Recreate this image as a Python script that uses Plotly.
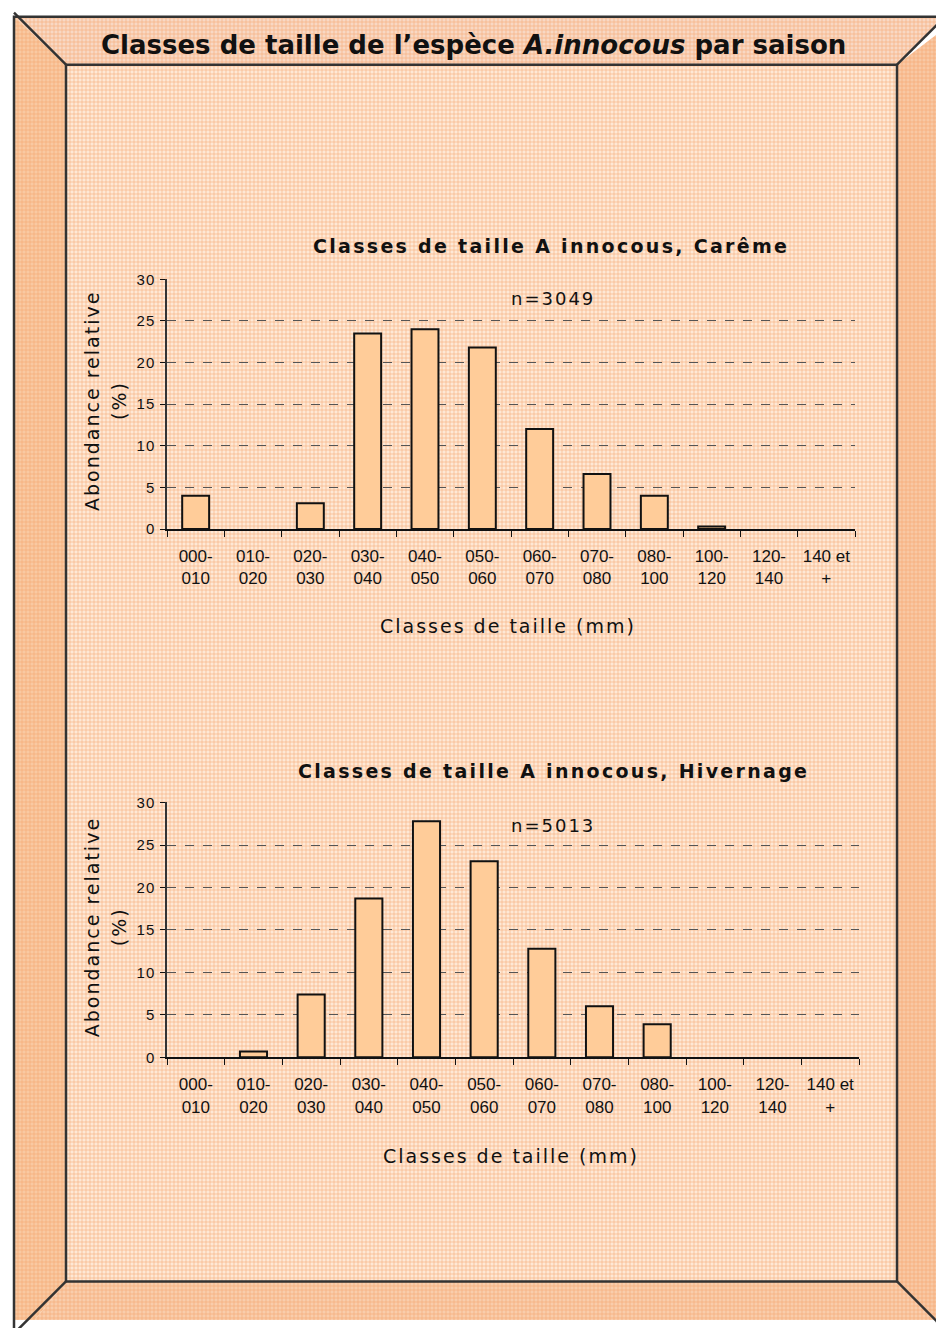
import plotly.graph_objects as go

# size classes (mm) and relative abundance (%) per season
classes = ["000-<br>010", "010-<br>020", "020-<br>030", "030-<br>040", "040-<br>050", "050-<br>060",
           "060-<br>070", "070-<br>080", "080-<br>100", "100-<br>120", "120-<br>140", "140 et<br>+"]
careme = [4.0, 0, 3.1, 23.5, 24.0, 21.8, 12.0, 6.6, 4.0, 0.3, 0, 0]
hivernage = [0, 0.7, 7.4, 18.7, 27.8, 23.1, 12.8, 6.0, 3.9, 0, 0, 0]
n_careme = 3049
n_hivernage = 5013
y_ticks = [0, 5, 10, 15, 20, 25, 30]

# figure size and the page offset / vertical squeeze seen in the screenshot
W, H = 928, 1320
OFF_X, OFF_Y, SQ = 8, 16.5, 0.9873
BAR = "#FFCC99"
INK = "#111111"


def fx(x):
    return x - OFF_X


def fy(y):
    return y / SQ - OFF_Y


def px(x):
    return fx(x) / W


def py(y):
    return 1 - fy(y) / H


def spaced(text, sp):
    return f'<span style="letter-spacing:{sp}px">{text}</span>'


fig = go.Figure()

# textured frame background, drawn on a full-page hidden subplot (x / y)
ox0, oy0, ox1, oy1 = 14, 17, 960, 1345
ix0, iy0, ix1, iy1 = 66, 65, 897, 1281
bands = [
    ([(ox0, oy0), (ox1, oy0), (ix1 + 63, iy0 - 63), (ix1, iy0), (ix0, iy0)], "#F8D8C4"),
    ([(ox0, oy0), (ix0, iy0), (ix0, iy1), (ox0, oy1)], "#F9C9A2"),
    ([(ox1, oy0), (ox1, oy1), (ix1, iy1), (ix1, iy0)], "#F8C8A4"),
    ([(ox0, oy1), (ix0, iy1), (ix1, iy1), (ox1, oy1)], "#F9CDAC"),
    ([(ix0, iy0), (ix1, iy0), (ix1, iy1), (ix0, iy1)], "#FEE8D6"),
]
for pts, col in bands:
    fig.add_scatter(x=[fx(p[0]) for p in pts + pts[:1]], y=[fy(p[1]) for p in pts + pts[:1]],
                    xaxis="x", yaxis="y", mode="none", fill="toself", fillcolor=col,
                    fillpattern=dict(shape="+", size=4, solidity=0.3, fgcolor="#F59E62",
                                     bgcolor=col, fgopacity=0.75),
                    hoverinfo="skip", showlegend=False)

fig.add_bar(x=classes, y=[v if v > 0 else None for v in careme], xaxis="x2", yaxis="y2",
            marker_color=BAR, marker_line_color=INK, marker_line_width=2, showlegend=False)
fig.add_bar(x=classes, y=[v if v > 0 else None for v in hivernage], xaxis="x3", yaxis="y3",
            marker_color=BAR, marker_line_color=INK, marker_line_width=2, showlegend=False)

xax = dict(type="category", showline=True, linecolor=INK, linewidth=1.5,
           ticks="outside", tickson="boundaries", ticklen=6, tickcolor=INK,
           showgrid=False, tickfont=dict(family="Liberation Sans", size=17, color=INK),
           ticklabelstandoff=11, fixedrange=True)
yax = dict(range=[0, 30.05], tickvals=y_ticks, ticktext=[spaced(v, 1) for v in y_ticks],
           showline=True, linecolor="#333333", linewidth=1.5,
           ticks="outside", ticklen=5, tickcolor=INK, zeroline=False,
           showgrid=True, gridcolor="#555555", griddash="dash", gridwidth=1,
           tickfont=dict(family="Liberation Sans", size=15, color=INK),
           ticklabelstandoff=2, fixedrange=True)
hidden = dict(visible=False, showgrid=False, zeroline=False, fixedrange=True)

fig.update_layout(
    width=W, height=H, margin=dict(l=0, r=0, t=0, b=0),
    paper_bgcolor="white", plot_bgcolor="rgba(0,0,0,0)",
    bargap=0.53,
    xaxis=dict(hidden, domain=[0, 1], range=[0, W], anchor="y"),
    yaxis=dict(hidden, domain=[0, 1], range=[H, 0], anchor="x"),
    xaxis2=dict(xax, domain=[px(167), px(855)], anchor="y2"),
    yaxis2=dict(yax, domain=[py(529), py(279)], anchor="x2"),
    xaxis3=dict(xax, domain=[px(167), px(859)], anchor="y3"),
    yaxis3=dict(yax, domain=[py(1057), py(802)], anchor="x3"),
)

# frame outlines
line = dict(color="#333333", width=2.5)
fig.add_shape(type="rect", xref="paper", yref="paper", x0=px(ox0), y0=py(oy0),
              x1=px(ox1), y1=py(oy1), line=line)
fig.add_shape(type="rect", xref="paper", yref="paper", x0=px(ix0), y0=py(iy0),
              x1=px(ix1), y1=py(iy1), line=line)
for (a, b), (c, d) in [((ix0 - 52, iy0 - 52), (ix0, iy0)), ((ix1 + 63, iy0 - 63), (ix1, iy0)),
                       ((ix0 - 63, iy1 + 63), (ix0, iy1)), ((ix1 + 63, iy1 + 63), (ix1, iy1))]:
    fig.add_shape(type="line", xref="paper", yref="paper", x0=px(a), y0=py(b),
                  x1=px(c), y1=py(d), line=line)


def label(x, y, text, size, bold=False, angle=0, sp=0, family="DejaVu Sans"):
    if sp:
        text = spaced(text, sp)
    fig.add_annotation(x=px(x), y=py(y), xref="paper", yref="paper", text=text,
                       showarrow=False, textangle=angle, xanchor="center", yanchor="middle",
                       font=dict(family=family, size=size, color=INK,
                                 weight="bold" if bold else "normal"))


label(473, 45, "Classes de taille de l’espèce <i>A.innocous</i> par saison", 26, bold=True)

label(551, 246, "Classes de taille A innocous, Carême", 19, bold=True, sp=2.3)
label(553, 299, f"n={n_careme}", 18, sp=2)
label(92, 401, "Abondance relative", 19, angle=-90, sp=2)
label(119, 401, "(%)", 19, angle=-90, sp=2)
label(508, 626, "Classes de taille (mm)", 19, sp=2)

label(553, 771, "Classes de taille A innocous, Hivernage", 19, bold=True, sp=2.3)
label(553, 825, f"n={n_hivernage}", 18, sp=2)
label(92, 927, "Abondance relative", 19, angle=-90, sp=2)
label(119, 927, "(%)", 19, angle=-90, sp=2)
label(511, 1156, "Classes de taille (mm)", 19, sp=2)

fig.write_html("out.html")
